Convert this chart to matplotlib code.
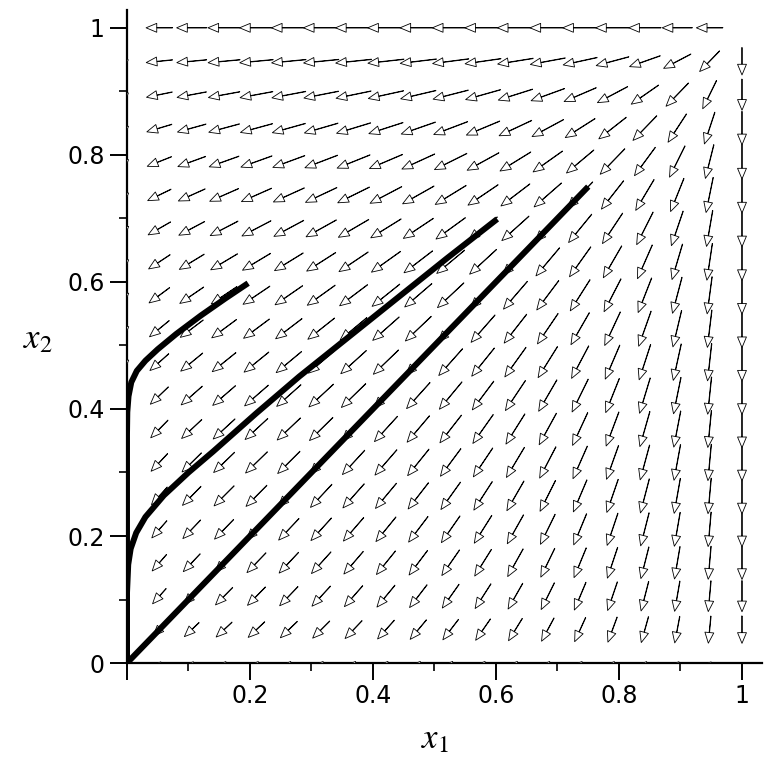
import numpy as np
import matplotlib
matplotlib.use("Agg")
import matplotlib.pyplot as plt

# ---- direction field definition (grid and model parameters) ----
n_grid = 20
p_exp = 0.8
eps = 1.5e-5
L_max = 0.057
v_ref = 0.2
q_pow = 0.2

# ---- trajectories ----
traj_a_x1 = [0.75, 0.0]
traj_a_x2 = [0.75, 0.0]

traj_b_x1 = [0.602, 0.52, 0.44, 0.36, 0.28, 0.21, 0.14, 0.10, 0.06, 0.03, 0.015, 0.006, 0.002, 0.0, 0.0]
traj_b_x2 = [0.699, 0.637, 0.575, 0.513, 0.451, 0.393, 0.333, 0.300, 0.264, 0.230, 0.205, 0.180, 0.155, 0.11, 0.0]

traj_c_x1 = [0.197, 0.16, 0.12, 0.08, 0.05, 0.03, 0.016, 0.007, 0.0025, 0.0005, 0.0, 0.0]
traj_c_x2 = [0.598, 0.574, 0.547, 0.518, 0.494, 0.476, 0.460, 0.442, 0.420, 0.395, 0.36, 0.0]

xticks_major = [0, 0.2, 0.4, 0.6, 0.8, 1]
xtick_labels = ["", "0.2", "0.4", "0.6", "0.8", "1"]
yticks_major = [0, 0.2, 0.4, 0.6, 0.8, 1]
ytick_labels = ["0", "0.2", "0.4", "0.6", "0.8", "1"]
ticks_minor = [0.1, 0.3, 0.5, 0.7, 0.9]

plt.rcParams["mathtext.fontset"] = "stix"

fig = plt.figure(figsize=(7.71, 7.71), dpi=100)
ax = fig.add_axes([0.1647, 0.140, 0.824, 0.847])

g = np.linspace(0, 1, n_grid)
X1, X2 = np.meshgrid(g, g)
U = -X1 * (1 - X1) * (X2 ** p_exp + eps)
V = -X2 * (1 - X2) * (X1 ** p_exp + eps)
M = np.hypot(U, V)
with np.errstate(divide="ignore", invalid="ignore"):
    L = L_max * (M / v_ref) ** q_pow
    Us = np.where(M > 0, U / M * L, 0.0)
    Vs = np.where(M > 0, V / M * L, 0.0)

ax.quiver(X1, X2, Us, Vs, angles="xy", scale_units="xy", scale=1,
          pivot="middle", width=0.0007, headwidth=20, headlength=24,
          headaxislength=24, minlength=0, minshaft=1,
          facecolor="white", edgecolor="black", linewidth=0.6, zorder=2)

for xs, ys in [(traj_a_x1, traj_a_x2), (traj_b_x1, traj_b_x2), (traj_c_x1, traj_c_x2)]:
    ax.plot(xs, ys, color="black", lw=4.3, solid_capstyle="butt",
            solid_joinstyle="round", zorder=3)

ax.set_xlim(0, 1.033)
ax.set_ylim(0, 1.028)
for s in ["top", "right"]:
    ax.spines[s].set_visible(False)
for s in ["left", "bottom"]:
    ax.spines[s].set_linewidth(1.6)
    ax.spines[s].set_position(("data", 0))
    ax.spines[s].set_zorder(1)

ax.set_xticks(xticks_major)
ax.set_xticklabels(xtick_labels)
ax.set_yticks(yticks_major)
ax.set_yticklabels(ytick_labels)
ax.set_xticks(ticks_minor, minor=True)
ax.set_yticks(ticks_minor, minor=True)
ax.tick_params(which="major", direction="out", length=12, width=1.4,
               labelsize=17, pad=4)
ax.tick_params(axis="x", which="major", pad=3)
ax.tick_params(which="minor", direction="out", length=6, width=1.2)
for lab in ax.get_xticklabels() + ax.get_yticklabels():
    lab.set_fontfamily("DejaVu Sans")

fig.text(435 / 771, 1 - 738 / 771, r"$x_1$", fontsize=25, ha="center", va="center")
fig.text(38 / 771, 1 - 338 / 771, r"$x_2$", fontsize=25, ha="center", va="center")

fig.savefig("out.png", dpi=100)
